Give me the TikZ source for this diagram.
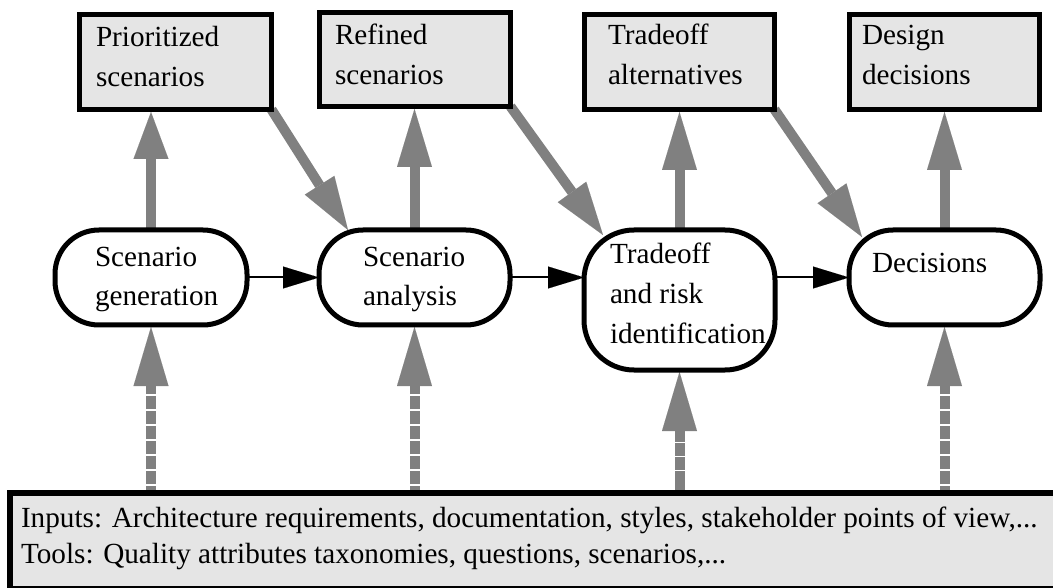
\documentclass[tikz,border=0pt]{standalone}
\usepackage{fontspec}
\setmainfont{Liberation Serif}
\usetikzlibrary{arrows.meta,backgrounds,calc}
\newcommand\celltext[3]{\makebox[#1][l]{\hspace*{#2}\begin{tabular}[t]{@{}l@{}}#3\end{tabular}}}
\begin{document}
\begin{tikzpicture}[x=1pt,y=-1pt,
  outbox/.style={draw, line width=5.5pt, fill=black!10, rectangle, inner sep=0pt, outer sep=0pt, anchor=north west, font=\fontsize{29.2}{40}\selectfont},
  proc/.style={draw, line width=5pt, fill=white, rectangle, rounded corners=44pt, inner sep=0pt, outer sep=0pt, anchor=north west, font=\fontsize{29.2}{39}\selectfont},
  inbox/.style={draw, line width=6pt, fill=black!10, rectangle, inner sep=0pt, outer sep=0pt, anchor=north west, font=\fontsize{29.2}{36}\selectfont},
  garrow/.style={draw=gray, line width=10pt, -{Triangle[length=#1,width=35pt,line width=0.01pt,fill=gray]}},
  garrow/.default=58pt,
  dashshaft/.style={dash pattern=on 13.5pt off 1.5pt, dash phase=6pt},
  dashpart/.style={dash pattern=on 22pt off 1.5pt on 12.5pt off 1.5pt on 12.5pt off 1.5pt on 300pt off 0pt},
  barrow/.style={draw=black, line width=2pt, -{Triangle[length=36pt,width=22pt,line width=0.01pt,fill=black]}}
]
\useasboundingbox (0,0) rectangle (1053,588);

% output boxes
\node[outbox, minimum width=192pt, minimum height=95pt, text height=32.5pt, text depth=62.5pt] (b1) at (79.5,14.5) {\celltext{192pt}{16.5pt}{Prioritized\\scenarios}};
\node[outbox, minimum width=191pt, minimum height=94pt, text height=32.5pt, text depth=61.5pt] (b2) at (319.5,12.5) {\celltext{191pt}{15.5pt}{Refined\\scenarios}};
\node[outbox, minimum width=190pt, minimum height=95pt, text height=30.5pt, text depth=64.5pt] (b3) at (584.5,14.5) {\celltext{190pt}{23.5pt}{Tradeoff\\alternatives}};
\node[outbox, minimum width=190pt, minimum height=95pt, text height=30.5pt, text depth=64.5pt] (b4) at (849.5,14.5) {\celltext{190pt}{12.5pt}{Design\\decisions}};

% process nodes
\node[proc, minimum width=192pt, minimum height=95pt, text height=37pt, text depth=58pt] (n1) at (55,230) {\celltext{192pt}{40pt}{Scenario\\generation}};
\node[proc, minimum width=191pt, minimum height=95pt, text height=37pt, text depth=58pt] (n2) at (319,230) {\celltext{191pt}{44pt}{Scenario\\analysis}};
\node[proc, rounded corners=50pt, minimum width=191pt, minimum height=140pt, text height=34pt, text depth=106pt, font=\fontsize{29.2}{40}\selectfont] (n3) at (584,230) {\celltext{191pt}{26pt}{Tradeoff\\and risk\\identification}};
\node[proc, minimum width=191pt, minimum height=95pt, text height=43pt, text depth=52pt] (n4) at (849,230) {\celltext{191pt}{23pt}{Decisions}};

% inputs box
\node[inbox, minimum width=1056pt, minimum height=96pt, text height=34pt, text depth=62pt] (inp) at (9.5,493) {\celltext{1056pt}{11.5pt}{Inputs: Architecture requirements, documentation, styles, stakeholder points of view,...\\Tools: Quality attributes taxonomies, questions, scenarios,...}};

\begin{scope}[on background layer]
  % outputs
  \draw[garrow=47pt] (n1.north) -- ($(n1.north |- b1.south)+(0,2.5)$);
  \draw[garrow] (n2.north) -- ($(n2.north |- b2.south)+(0,2.5)$);
  \draw[garrow] (n3.north) -- ($(n3.north |- b3.south)+(0,2.5)$);
  \draw[garrow] (n4.north) -- ($(n4.north |- b4.south)+(0,2.5)$);
  % outputs feeding the next step
  \draw[garrow=53pt] (b1.south east) -- ($(n2.north west)+(29,0)$);
  \draw[garrow=53pt] (b2.south east) -- ($(n3.north west)+(19,5)$);
  \draw[garrow=53pt] (b3.south east) -- ($(n4.north west)+(13,7)$);
  % inputs
  \draw[garrow=59pt, dashshaft] (n1.south |- inp.north) -- ($(n1.south)+(0,2)$);
  \draw[garrow=59pt, dashshaft] (n2.south |- inp.north) -- ($(n2.south)+(0,2)$);
  \draw[garrow=59pt, dashpart] (n3.south |- inp.north) -- ($(n3.south)+(0,2)$);
  \draw[garrow=59pt, dashshaft] (n4.south |- inp.north) -- ($(n4.south)+(0,2)$);
\end{scope}

% process flow
\draw[barrow] (n1.east) -- (n2.west);
\draw[barrow] (n2.east) -- (n2.east -| n3.west);
\draw[barrow] (n4.west -| n3.east) -- (n4.west);
\end{tikzpicture}
\end{document}
